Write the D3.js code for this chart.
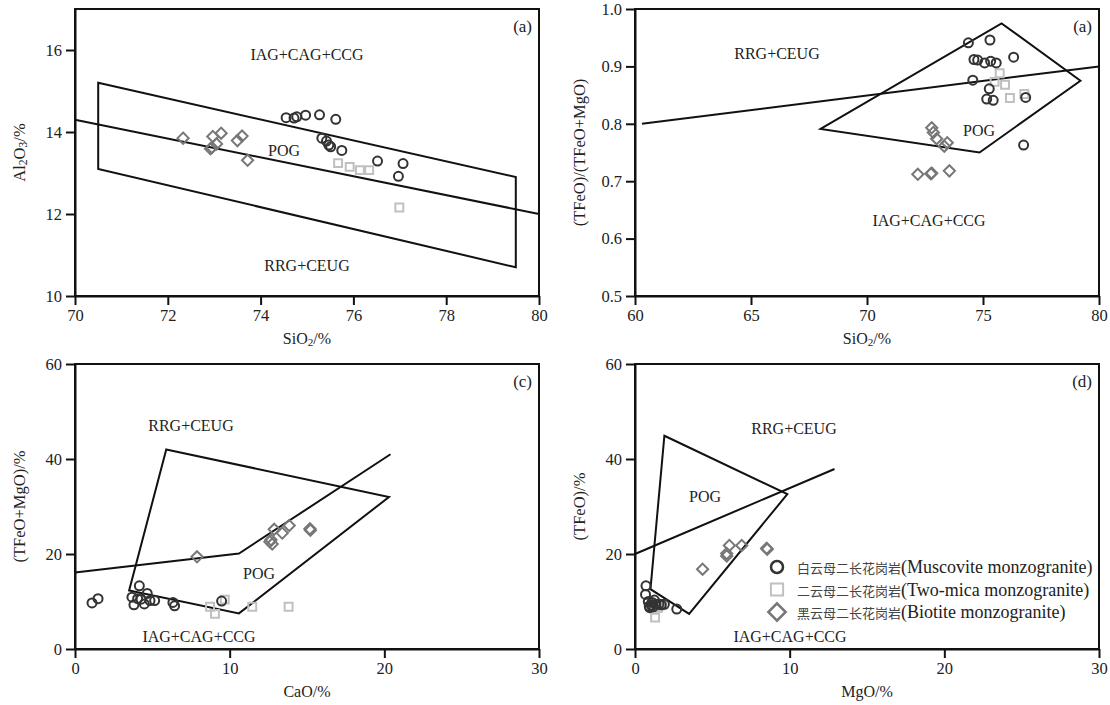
<!DOCTYPE html>
<meta charset="utf-8">
<head>
<style>
  body { margin: 0; background: #fff; }
  svg text { font-family: "Liberation Serif", "Times New Roman", serif; fill: #222; }
  .axis path, .axis line { stroke: #111; stroke-width: 2; fill: none; }
  .axis text { font-size: 16.5px; font-family: "Liberation Serif", serif; }
  .frame { fill: none; stroke: #111; stroke-width: 2; }
  .field { fill: none; stroke: #111; stroke-width: 2; stroke-linejoin: miter; }
  .region { font-size: 16px; text-anchor: middle; }
</style>
</head>
<body>
<script src="https://cdnjs.cloudflare.com/ajax/libs/d3/7.8.5/d3.min.js"></script>
<script>

// ---- data ----

// (a) SiO2 vs Al2O3
const musA = [[74.55,14.35],[74.72,14.34],[74.78,14.37],[74.97,14.41],[75.27,14.42],[75.62,14.31],
  [75.32,13.85],[75.42,13.78],[75.47,13.68],[75.51,13.64],[75.75,13.55],[76.52,13.29],[77.07,13.23],[76.97,12.92]];
const twoA = [[75.67,13.24],[75.92,13.15],[76.14,13.07],[76.34,13.07],[76.99,12.16]];
const bioA = [[72.33,13.85],[72.97,13.89],[73.15,13.97],[73.05,13.71],[72.92,13.59],[72.95,13.62],
  [73.50,13.79],[73.60,13.90],[73.72,13.31]];
const boxA = [[70.5,15.2],[79.5,12.9],[79.5,10.7],[70.5,13.1]];
const lineA = [[70,14.3],[80,12.0]];

// (b) SiO2 vs TFeO/(TFeO+MgO)
const musB = [[74.37,0.941],[75.30,0.946],[74.61,0.912],[74.77,0.911],[75.07,0.906],[75.33,0.909],
  [75.57,0.906],[76.32,0.916],[74.56,0.876],[75.27,0.861],[75.16,0.843],[75.44,0.841],[76.84,0.846],[76.75,0.763]];
const twoB = [[75.72,0.888],[75.50,0.873],[75.95,0.868],[76.16,0.845],[76.78,0.852]];
const bioB = [[72.79,0.793],[72.86,0.785],[73.00,0.774],[73.33,0.761],[73.46,0.767],
  [72.19,0.712],[72.75,0.713],[72.79,0.714],[73.55,0.718]];
const polyB = [[68.0,0.791],[75.8,0.975],[79.2,0.875],[74.85,0.750]];
const lineB = [[60.3,0.80],[80,0.90]];

// (c) CaO vs TFeO+MgO
const musC = [[1.10,9.7],[1.49,10.6],[3.68,10.9],[4.16,13.3],[3.81,9.3],[4.27,10.5],[4.05,10.6],
  [4.48,9.5],[4.67,11.7],[4.85,10.2],[5.15,10.2],[6.33,9.8],[6.44,9.1],[9.48,10.1]];
const twoC = [[8.73,8.9],[9.05,7.4],[9.68,10.4],[11.46,8.9],[13.81,8.9]];
const bioC = [[7.89,19.4],[12.88,25.2],[12.67,23.0],[12.75,22.1],[12.6,22.6],[13.40,24.4],
  [13.85,26.0],[15.19,25.3],[15.22,25.0]];
const polyC = [[5.9,42.0],[20.3,32.0],[10.6,7.5],[3.5,12.3]];
const lineC = [[0,16.1],[10.6,20.1],[20.4,41.0]];

// (d) MgO vs TFeO
const musD = [[0.71,13.3],[0.68,11.5],[0.86,10.0],[0.92,9.0],[1.10,9.8],[1.05,9.2],[1.20,8.9],
  [1.35,9.4],[1.55,9.5],[1.70,9.3],[1.90,9.4],[0.95,8.7],[1.25,10.3],[2.70,8.4]];
const twoD = [[1.30,8.6],[1.30,6.6],[1.50,8.7],[1.60,9.2],[1.75,9.4]];
const bioD = [[4.37,16.8],[5.93,19.6],[5.93,20.1],[6.10,21.8],[6.90,21.8],[8.51,21.2],[8.55,21.0]];
const polyD = [[1.9,44.9],[9.85,32.6],[3.5,7.4],[1.0,12.6]];
const lineD = [[0,20.0],[12.9,37.9]];

const legendLabels = [
  ["白云母二长花岗岩", "(Muscovite monzogranite)"],
  ["二云母二长花岗岩", "(Two-mica monzogranite)"],
  ["黑云母二长花岗岩", "(Biotite monzogranite)"]
];

const colMus = "#333", colTwo = "#c0c0c0", colBio = "#777";

// ---- layout ----
const W = 1110, H = 705;
const svg = d3.select("body").append("svg").attr("width", W).attr("height", H);

const panels = [
  { left: 75, top: 9, w: 464, h: 287, xd: [70, 80], yd: [10, 17], xt: [70,72,74,76,78,80], yt: [10,12,14,16],
    yfmt: d3.format("d"), tag: "(a)", xlab: [["SiO","2","/%"]], ylab: [["Al","2",""],["O","3","/%"]],
    mus: musA, two: twoA, bio: bioA, poly: boxA, line: lineA,
    regions: [["IAG+CAG+CCG",307,60],["POG",284,156],["RRG+CEUG",307,271]] },
  { left: 635, top: 9, w: 464, h: 287, xd: [60, 80], yd: [0.5, 1.0], xt: [60,65,70,75,80], yt: [0.5,0.6,0.7,0.8,0.9,1.0],
    yfmt: d3.format(".1f"), tag: "(a)", xlab: [["SiO","2","/%"]], ylab: [["(TFeO)/(TFeO+MgO)","",""]],
    mus: musB, two: twoB, bio: bioB, poly: polyB, line: lineB,
    regions: [["RRG+CEUG",777,59],["POG",979,136],["IAG+CAG+CCG",929,226]] },
  { left: 75, top: 364, w: 464, h: 285, xd: [0, 30], yd: [0, 60], xt: [0,10,20,30], yt: [0,20,40,60],
    yfmt: d3.format("d"), tag: "(c)", xlab: [["CaO/%","",""]], ylab: [["(TFeO+MgO)/%","",""]],
    mus: musC, two: twoC, bio: bioC, poly: polyC, line: lineC,
    regions: [["RRG+CEUG",191,431],["POG",259,579],["IAG+CAG+CCG",199,642]] },
  { left: 635, top: 364, w: 464, h: 285, xd: [0, 30], yd: [0, 60], xt: [0,10,20,30], yt: [0,20,40,60],
    yfmt: d3.format("d"), tag: "(d)", xlab: [["MgO/%","",""]], ylab: [["(TFeO)/%","",""]],
    mus: musD, two: twoD, bio: bioD, poly: polyD, line: lineD,
    regions: [["RRG+CEUG",794,434],["POG",705,502],["IAG+CAG+CCG",790,642]] }
];

// write label pieces with subscripts
function richText(sel, parts, size) {
  parts.forEach(p => {
    sel.append("tspan").attr("font-size", size).text(p[0]);
    if (p[1]) sel.append("tspan").attr("font-size", size * 0.7).attr("baseline-shift", "-15%").text(p[1]);
    if (p[2]) sel.append("tspan").attr("font-size", size).text(p[2]);
  });
}

const squarePath = d3.symbol().type(d3.symbolSquare2).size(80)();
const diamondPath = d3.symbol().type(d3.symbolDiamond2).size(80)();

panels.forEach(p => {
  const g = svg.append("g").attr("transform", `translate(${p.left},${p.top})`);
  const x = d3.scaleLinear().domain(p.xd).range([0, p.w]);
  const y = d3.scaleLinear().domain(p.yd).range([p.h, 0]);

  g.append("g").attr("class", "axis")
    .attr("transform", `translate(0,${p.h})`)
    .call(d3.axisBottom(x).tickValues(p.xt).tickSize(9).tickPadding(4).tickSizeOuter(0).tickFormat(d3.format("d")));
  g.append("g").attr("class", "axis")
    .call(d3.axisLeft(y).tickValues(p.yt).tickSize(9).tickPadding(4).tickSizeOuter(0).tickFormat(p.yfmt));

  g.append("rect").attr("class", "frame").attr("width", p.w).attr("height", p.h);

  // discrimination fields
  const ln = d3.line().x(d => x(d[0])).y(d => y(d[1]));
  g.append("path").attr("class", "field").attr("d", ln(p.poly) + "Z");
  g.append("path").attr("class", "field").attr("d", ln(p.line));

  // region names
  p.regions.forEach(r => {
    svg.append("text").attr("class", "region").attr("x", r[1]).attr("y", r[2]).text(r[0]);
  });

  g.append("text").attr("x", p.w - 7).attr("y", 23).attr("text-anchor", "end")
    .attr("font-size", 17).text(p.tag);

  // points
  g.selectAll(".two").data(p.two).join("path")
    .attr("transform", d => `translate(${x(d[0])},${y(d[1])})`)
    .attr("d", squarePath).attr("fill", "none").attr("stroke", colTwo).attr("stroke-width", 2);
  g.selectAll(".bio").data(p.bio).join("path")
    .attr("transform", d => `translate(${x(d[0])},${y(d[1])})`)
    .attr("d", diamondPath).attr("fill", "none").attr("stroke", colBio).attr("stroke-width", 2);
  g.selectAll(".mus").data(p.mus).join("circle")
    .attr("cx", d => x(d[0])).attr("cy", d => y(d[1])).attr("r", 4.5)
    .attr("fill", "none").attr("stroke", colMus).attr("stroke-width", 2);

  // axis titles
  const xt = svg.append("text").attr("x", p.left + p.w / 2).attr("y", p.top + p.h + 48)
    .attr("text-anchor", "middle");
  richText(xt, p.xlab, 16);
  const yt = svg.append("text")
    .attr("transform", `translate(${p.left - 50},${p.top + p.h / 2}) rotate(-90)`)
    .attr("text-anchor", "middle");
  richText(yt, p.ylab, 16.5);
});

// legend in panel (d)
const lg = svg.append("g").attr("transform", "translate(777,567)");
const legendMarks = [
  s => s.append("circle").attr("r", 6).attr("fill", "none").attr("stroke", colMus).attr("stroke-width", 2.5),
  s => s.append("path").attr("d", d3.symbol().type(d3.symbolSquare2).size(190)()).attr("fill", "none").attr("stroke", colTwo).attr("stroke-width", 2),
  s => s.append("path").attr("d", d3.symbol().type(d3.symbolDiamond2).size(190)()).attr("fill", "none").attr("stroke", colBio).attr("stroke-width", 2.5)
];
legendLabels.forEach((l, i) => {
  const row = lg.append("g").attr("transform", `translate(0,${i * 22.5})`);
  legendMarks[i](row);
  const t = row.append("text").attr("x", 20).attr("y", 6);
  t.append("tspan").attr("font-family", "'Noto Sans CJK SC'").attr("font-size", 13).attr("fill", "#444").text(l[0]);
  t.append("tspan").attr("font-size", 18).text(l[1]);
});

</script>
</body>
